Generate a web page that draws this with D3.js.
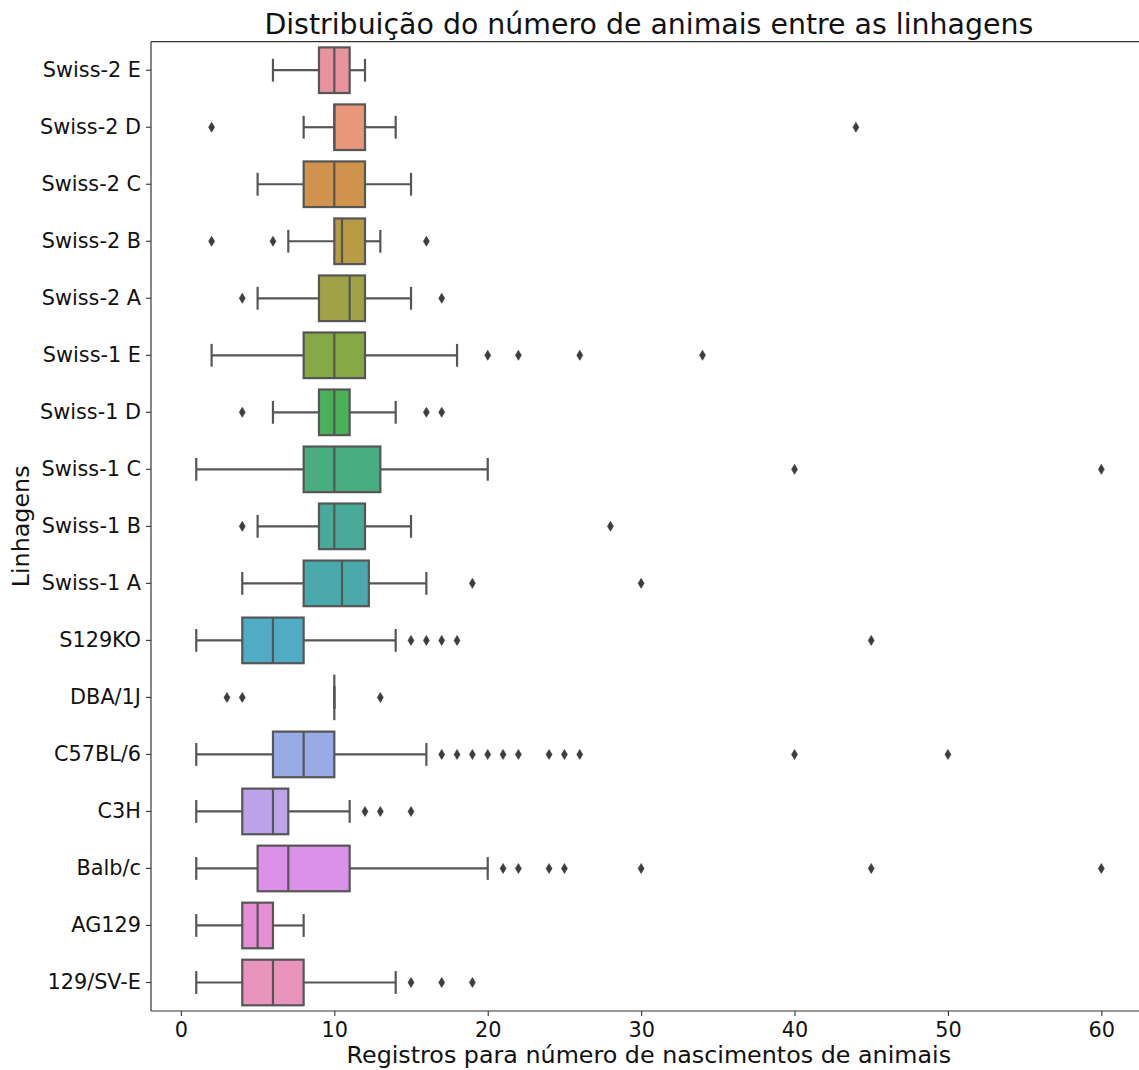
<!DOCTYPE html>
<html lang="pt">
<head>
<meta charset="utf-8">
<script src="https://cdn.jsdelivr.net/npm/d3@7"></script>
<style>
  body { margin: 0; background: #fff; }
  svg { display: block; font-family: "DejaVu Sans", sans-serif; }
</style>
</head>
<body>
<svg width="1139" height="1070"></svg>
<script>
// categories top to bottom
var linhagens = ["Swiss-2 E", "Swiss-2 D", "Swiss-2 C", "Swiss-2 B", "Swiss-2 A",
  "Swiss-1 E", "Swiss-1 D", "Swiss-1 C", "Swiss-1 B", "Swiss-1 A",
  "S129KO", "DBA/1J", "C57BL/6", "C3H", "Balb/c", "AG129", "129/SV-E"];

// box stats
var whiskerLo = [6, 8, 5, 7, 5, 2, 6, 1, 5, 4, 1, 10, 1, 1, 1, 1, 1];
var q1        = [9, 10, 8, 10, 9, 8, 9, 8, 9, 8, 4, 10, 6, 4, 5, 4, 4];
var mediana   = [10, 10, 10, 10.5, 11, 10, 10, 10, 10, 10.5, 6, 10, 8, 6, 7, 5, 6];
var q3        = [11, 12, 12, 12, 12, 12, 11, 13, 12, 12.25, 8, 10, 10, 7, 11, 6, 8];
var whiskerHi = [12, 14, 15, 13, 15, 18, 14, 20, 15, 16, 14, 10, 16, 11, 20, 8, 14];
var outliers = [
  [], [2, 44], [], [2, 6, 16], [4, 17],
  [20, 22, 26, 34], [4, 16, 17], [40, 60], [4, 28], [19, 30],
  [15, 16, 17, 18, 45], [3, 4, 13],
  [17, 18, 19, 20, 21, 22, 24, 25, 26, 40, 50],
  [12, 13, 15], [21, 22, 24, 25, 30, 45, 60], [], [15, 17, 19]
];

var xTicks = [0, 10, 20, 30, 40, 50, 60];

var cores = ["#e8939f", "#e8977b", "#d0934b", "#b89b45", "#a0a245", "#86a845",
  "#4bb158", "#49ad82", "#4aaa99", "#4aa9ab", "#50abc4", "#72a7de", "#98abe7",
  "#bca3ea", "#db91e7", "#e68fd5", "#e894bc"];

var gray = "#565656";

var svg = d3.select("svg");
var mLeft = 151, mTop = 41.7, mBottom = 1011, mRight = 1146.6;

// x range like matplotlib: data extent with 5% margins
var allVals = whiskerLo.concat(whiskerHi, d3.merge(outliers));
var ext = d3.extent(allVals);
var pad = (ext[1] - ext[0]) * 0.05;
var x = d3.scaleLinear().domain([ext[0] - pad, ext[1] + pad]).range([mLeft, mRight]);
var y = d3.scaleBand().domain(linhagens).range([mTop, mBottom]).padding(0);
var bh = y.bandwidth() * 0.8;
var cap = y.bandwidth() * 0.4;

var g = svg.append("g");

linhagens.forEach(function (name, i) {
  var cy = y(name) + y.bandwidth() / 2;
  var row = g.append("g");

  // whiskers
  row.append("line")
    .attr("x1", x(whiskerLo[i])).attr("x2", x(q1[i]))
    .attr("y1", cy).attr("y2", cy);
  row.append("line")
    .attr("x1", x(q3[i])).attr("x2", x(whiskerHi[i]))
    .attr("y1", cy).attr("y2", cy);
  // caps
  [whiskerLo[i], whiskerHi[i]].forEach(function (v) {
    row.append("line")
      .attr("x1", x(v)).attr("x2", x(v))
      .attr("y1", cy - cap / 2).attr("y2", cy + cap / 2);
  });
  // box
  row.append("rect")
    .attr("x", x(q1[i]))
    .attr("y", cy - bh / 2)
    .attr("width", x(q3[i]) - x(q1[i]))
    .attr("height", bh)
    .attr("fill", cores[i]);
  // median
  row.append("line")
    .attr("x1", x(mediana[i])).attr("x2", x(mediana[i]))
    .attr("y1", cy - bh / 2).attr("y2", cy + bh / 2);

  row.selectAll("line")
    .attr("stroke", gray).attr("stroke-width", 2.2);
  row.select("rect")
    .attr("stroke", gray).attr("stroke-width", 2.2);

  // fliers (thin diamonds)
  row.selectAll("path.flier")
    .data(outliers[i])
    .enter().append("path")
    .attr("class", "flier")
    .attr("d", function (d) {
      var px = x(d);
      return "M" + px + "," + (cy - 5) + "L" + (px + 3) + "," + cy +
        "L" + px + "," + (cy + 5) + "L" + (px - 3) + "," + cy + "Z";
    })
    .attr("fill", "#3d3d3d")
    .attr("stroke", "#3d3d3d")
    .attr("stroke-width", 0.6);
});

// spines
svg.append("line").attr("x1", mLeft).attr("x2", mLeft).attr("y1", mTop).attr("y2", mBottom)
  .attr("stroke", "#333").attr("stroke-width", 1.2);
svg.append("line").attr("x1", mLeft).attr("x2", 1139).attr("y1", mTop).attr("y2", mTop)
  .attr("stroke", "#333").attr("stroke-width", 1.2);
svg.append("line").attr("x1", mLeft).attr("x2", 1139).attr("y1", mBottom).attr("y2", mBottom)
  .attr("stroke", "#333").attr("stroke-width", 1.2);

// x axis
var xAxis = svg.append("g")
  .attr("transform", "translate(0," + mBottom + ")")
  .call(d3.axisBottom(x).tickValues(xTicks).tickSize(5).tickPadding(6));
xAxis.select(".domain").remove();
xAxis.selectAll(".tick line").attr("stroke", "#333").attr("stroke-width", 1.1);
xAxis.selectAll(".tick text")
  .attr("font-size", "20.8px").attr("fill", "#111")
  .attr("font-family", "DejaVu Sans");

// y axis
var yAxis = svg.append("g")
  .attr("transform", "translate(" + mLeft + ",0)")
  .call(d3.axisLeft(y).tickSize(5).tickPadding(5));
yAxis.select(".domain").remove();
yAxis.selectAll(".tick line").attr("stroke", "#333").attr("stroke-width", 1.1);
yAxis.selectAll(".tick text")
  .attr("font-size", "20.8px").attr("fill", "#111")
  .attr("font-family", "DejaVu Sans");

// title and labels
svg.append("text")
  .attr("x", (mLeft + mRight) / 2).attr("y", 34)
  .attr("text-anchor", "middle")
  .attr("font-size", "28.4px").attr("fill", "#111")
  .text("Distribuição do número de animais entre as linhagens");

svg.append("text")
  .attr("x", (mLeft + mRight) / 2).attr("y", 1063)
  .attr("text-anchor", "middle")
  .attr("font-size", "23.8px").attr("fill", "#111")
  .text("Registros para número de nascimentos de animais");

svg.append("text")
  .attr("transform", "translate(29," + ((mTop + mBottom) / 2) + ") rotate(-90)")
  .attr("text-anchor", "middle")
  .attr("font-size", "23.8px").attr("fill", "#111")
  .text("Linhagens");
</script>
</body>
</html>
